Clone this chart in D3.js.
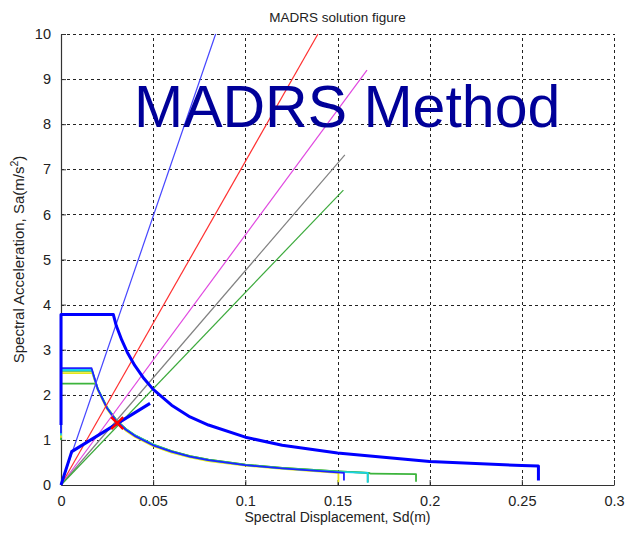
<!DOCTYPE html>
<html><head><meta charset="utf-8">
<script src="https://cdn.jsdelivr.net/npm/d3@7"></script>
<style>
body{margin:0;background:#fff}
svg{display:block}
text{font-family:"Liberation Sans",Arial,Helvetica,sans-serif}
</style>
</head><body>
<svg id="chart" width="627" height="535"></svg>
<script>
// ---------- data ----------
const xTicks = [0, 0.05, 0.1, 0.15, 0.2, 0.25, 0.3];
const xTickLabels = ["0", "0.05", "0.1", "0.15", "0.2", "0.25", "0.3"];
const yTicks = [0, 1, 2, 3, 4, 5, 6, 7, 8, 9, 10];
const yTickLabels = ["0", "1", "2", "3", "4", "5", "6", "7", "8", "9", "10"];

// radial (constant period) lines: from origin to end point
const radialNames = ["blue", "red", "magenta", "gray", "green"];
const radialEndSd = [0.0839, 0.1394, 0.1660, 0.1540, 0.1532];
const radialEndSa = [10.0, 10.0, 9.20, 7.32, 6.54];

// 5% demand spectrum (thick blue)
const demandSd = [0, 0, 0.0284, 0.030, 0.033, 0.036, 0.040, 0.045, 0.050, 0.060, 0.070, 0.080, 0.100, 0.120, 0.150, 0.200, 0.250, 0.259, 0.259];
const demandSa = [1.33, 3.78, 3.78, 3.53, 3.21, 2.94, 2.65, 2.36, 2.12, 1.77, 1.51, 1.33, 1.06, 0.88, 0.71, 0.52, 0.43, 0.42, 0.10];

// reduced demand spectra
const redBlueSd = [0, 0, 0.0166, 0.020, 0.025, 0.030, 0.035, 0.040, 0.050, 0.060, 0.070, 0.080, 0.100, 0.120, 0.150, 0.1535, 0.1535];
const redBlueSa = [1.15, 2.59, 2.59, 2.12, 1.70, 1.42, 1.23, 1.09, 0.88, 0.74, 0.63, 0.55, 0.44, 0.37, 0.28, 0.27, 0.10];
const redGreenSd = [0, 0, 0.0168, 0.020, 0.025, 0.030, 0.035, 0.040, 0.050, 0.060, 0.070, 0.080, 0.100, 0.120, 0.150, 0.167, 0.168, 0.1926, 0.1926];
const redGreenSa = [1.10, 2.53, 2.53, 2.13, 1.72, 1.44, 1.25, 1.11, 0.90, 0.75, 0.64, 0.56, 0.45, 0.38, 0.30, 0.27, 0.25, 0.24, 0.07];
const redYellowSd = [0, 0, 0.0170, 0.020, 0.025, 0.030, 0.035, 0.040, 0.050, 0.060, 0.070, 0.080, 0.100, 0.120, 0.150, 0.1505, 0.1505];
const redYellowSa = [1.05, 2.48, 2.48, 2.10, 1.68, 1.40, 1.21, 1.07, 0.86, 0.72, 0.61, 0.53, 0.43, 0.36, 0.27, 0.27, 0.06];
const redCyanSd = [0, 0, 0.0167, 0.020, 0.025, 0.030, 0.035, 0.040, 0.050, 0.060, 0.070, 0.080, 0.100, 0.120, 0.150, 0.1664, 0.1664];
const redCyanSa = [1.10, 2.55, 2.55, 2.12, 1.71, 1.43, 1.24, 1.10, 0.89, 0.74, 0.63, 0.55, 0.44, 0.37, 0.29, 0.27, 0.05];
const redGreen2Sd = [0, 0, 0.0185, 0.020, 0.025, 0.030, 0.035, 0.040, 0.050, 0.060, 0.070, 0.080, 0.100, 0.120, 0.150, 0.1664, 0.1664];
const redGreen2Sa = [1.00, 2.25, 2.25, 2.12, 1.72, 1.44, 1.25, 1.10, 0.89, 0.75, 0.64, 0.56, 0.45, 0.38, 0.30, 0.27, 0.06];

// capacity curve (thick blue)
const capacitySd = [0, 0.0058, 0.0483];
const capacitySa = [0, 0.74, 1.81];

// performance point
const perfSd = [0.0305];
const perfSa = [1.37];

// ---------- styles ----------
const radialColors = {blue: "#4646ff", red: "#ff3030", magenta: "#e048e0", gray: "#808080", green: "#3caa3c"};

// ---------- drawing ----------
const svg = d3.select("#chart");
const W = 627, H = 535;
const m = {left: 61, right: 13, top: 34, bottom: 50};
const x = d3.scaleLinear().domain([0, 0.3]).range([m.left, W - m.right]);
const y = d3.scaleLinear().domain([0, 10]).range([H - m.bottom, m.top]);

svg.append("rect").attr("width", W).attr("height", H).attr("fill", "#fff");

// grid
const grid = svg.append("g").attr("stroke", "#222").attr("stroke-width", 1).attr("stroke-dasharray", "3,3");
grid.selectAll("line.h").data(yTicks.filter(d => d > 0)).join("line")
  .attr("x1", x(0)).attr("x2", x(0.3)).attr("y1", d => Math.round(y(d)) + 0.5).attr("y2", d => Math.round(y(d)) + 0.5);
grid.selectAll("line.v").data(xTicks.filter(d => d > 0)).join("line").attr("class", "v")
  .attr("y1", y(0)).attr("y2", y(10)).attr("x1", d => Math.round(x(d)) + 0.5).attr("x2", d => Math.round(x(d)) + 0.5);

// axes
const xAxis = d3.axisBottom(x).tickValues(xTicks).tickFormat((d, i) => xTickLabels[i]).tickSizeInner(-5).tickSizeOuter(0).tickPadding(11);
const yAxis = d3.axisLeft(y).tickValues(yTicks).tickFormat((d, i) => yTickLabels[i]).tickSizeInner(-5).tickSizeOuter(0).tickPadding(10);
const gx = svg.append("g").attr("transform", `translate(0,${y(0)})`).call(xAxis);
const gy = svg.append("g").attr("transform", `translate(${x(0)},0)`).call(yAxis);
[gx, gy].forEach(g => {
  g.select(".domain").attr("stroke", "#333").attr("stroke-width", 1.2);
  g.selectAll(".tick line").attr("stroke", "#333");
  g.selectAll(".tick text").attr("font-size", 14.5).attr("fill", "#222")
    .attr("font-family", '"Liberation Sans",Arial,sans-serif');
});

const line = d3.line().x(d => x(d[0])).y(d => y(d[1]));
const zip = (a, b) => a.map((v, i) => [v, b[i]]);
const plot = svg.append("g").attr("fill", "none").attr("stroke-linejoin", "round");

// reduced demand spectra
const reduced = [
  [redGreen2Sd, redGreen2Sa, "#3cb43c"],
  [redGreenSd, redGreenSa, "#3cb43c"],
  [redYellowSd, redYellowSa, "#e6e619"],
  [redCyanSd, redCyanSa, "#19d2e6"],
  [redBlueSd, redBlueSa, "#2020ff"]
];
reduced.forEach(r => {
  plot.append("path").attr("d", line(zip(r[0], r[1]))).attr("stroke", r[2]).attr("stroke-width", 1.8);
});

// radial lines
radialNames.forEach((n, i) => {
  plot.append("path").attr("d", line([[0, 0], [radialEndSd[i], radialEndSa[i]]]))
    .attr("stroke", radialColors[n]).attr("stroke-width", 1.2);
});

// thick demand and capacity
plot.append("path").attr("d", line(zip(demandSd, demandSa))).attr("stroke", "#0000ff").attr("stroke-width", 3);
plot.append("path").attr("d", line(zip(capacitySd, capacitySa))).attr("stroke", "#0000ff").attr("stroke-width", 3);

// performance point marker (x)
perfSd.forEach((sd, i) => {
  const px = x(sd), py = y(perfSa[i]), s = 6;
  plot.append("path").attr("d", `M${px - s},${py - s}L${px + s},${py + s}M${px - s},${py + s}L${px + s},${py - s}`)
    .attr("stroke", "#ff0000").attr("stroke-width", 2.5);
});

// texts
svg.append("text").attr("x", (x(0) + x(0.3)) / 2).attr("y", 22).attr("text-anchor", "middle")
  .attr("font-size", 13.5).attr("fill", "#222").text("MADRS solution figure");
svg.append("text").attr("x", (x(0) + x(0.3)) / 2).attr("y", 522).attr("text-anchor", "middle")
  .attr("font-size", 14).attr("fill", "#222").text("Spectral Displacement, Sd(m)");
const yl = svg.append("text").attr("transform", `translate(24,${(y(0) + y(10)) / 2}) rotate(-90)`)
  .attr("text-anchor", "middle").attr("font-size", 15).attr("fill", "#222");
yl.append("tspan").text("Spectral Acceleration, Sa(m/s");
yl.append("tspan").attr("font-size", 10.5).attr("dy", -6).text("2");
yl.append("tspan").attr("dy", 6).text(")");

svg.append("text").attr("x", 134).attr("y", 127).attr("font-size", 59).attr("fill", "#000099")
  .text("MADRS Method");
</script>
</body></html>
